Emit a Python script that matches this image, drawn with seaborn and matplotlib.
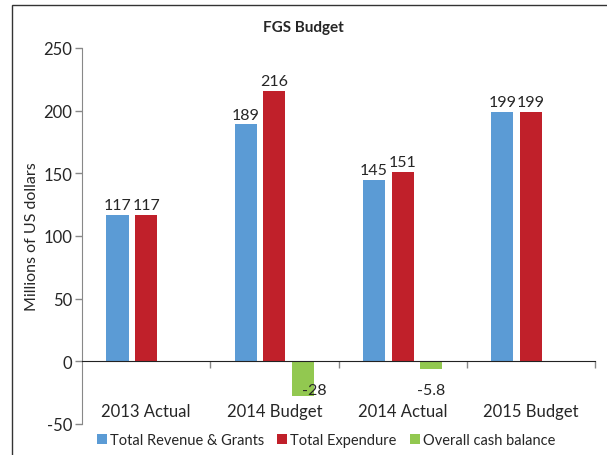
import numpy as np
import pandas as pd
import matplotlib
matplotlib.use("Agg")
import matplotlib.pyplot as plt
from matplotlib.patches import Patch, Rectangle
import seaborn as sns

periods = ["2013 Actual", "2014 Budget", "2014 Actual", "2015 Budget"]
series_names = ["Total Revenue & Grants", "Total Expendure", "Overall cash balance"]
revenue = [117, 189, 145, 199]
expenditure = [117, 216, 151, 199]
balance = [np.nan, -28, -5.8, np.nan]
colors = ["#5B9BD5", "#C0202A", "#92C850"]

df = pd.DataFrame({
    "period": periods * 3,
    "series": [series_names[0]] * 4 + [series_names[1]] * 4 + [series_names[2]] * 4,
    "value": revenue + expenditure + balance,
})

sns.set_style("white")
plt.rcParams["font.family"] = ["Lato", "DejaVu Sans"]
plt.rcParams["axes.unicode_minus"] = False

fig = plt.figure(figsize=(6.07, 4.56), dpi=100)
ax = fig.add_axes([82 / 607, 1 - 425 / 456, (595 - 82) / 607, (425 - 49) / 456])

sns.barplot(data=df.dropna(), x="period", y="value", hue="series",
            order=periods, hue_order=series_names, palette=colors, saturation=1,
            width=0.667, gap=0.22, errorbar=None, legend=False,
            linewidth=0, ax=ax)

ax.set_xlim(-0.5, 3.5)
ax.set_ylim(-50, 250)
ax.set_yticks(range(-50, 251, 50))
ax.tick_params(axis="y", labelsize=12, length=5, width=1, color="#888888",
               direction="out", left=True, pad=2)
ax.set_ylabel("Millions of US dollars", fontsize=11.5, labelpad=3)
ax.set_xlabel("")

# x axis sits on the zero line, ticks between categories
for s in ["top", "right"]:
    ax.spines[s].set_visible(False)
ax.spines["left"].set_color("#888888")
ax.spines["bottom"].set_position(("data", 0))
ax.spines["bottom"].set_color("#222222")
ax.set_xticks([0.5, 1.5, 2.5, 3.5])
ax.set_xticklabels([])
ax.tick_params(axis="x", length=5, width=1, color="#888888", direction="out", bottom=True)
for i, p in enumerate(periods):
    ax.text(i, -40, p, ha="center", va="center", fontsize=12)

# data labels
label_shift = {-28: 0.09}
for container, vals in zip(ax.containers, [revenue, expenditure, balance]):
    vals = [v for v in vals if not np.isnan(v)]
    for bar, v in zip(container.patches, vals):
        xc = bar.get_x() + bar.get_width() / 2
        txt = f"{v:g}"
        if v >= 0:
            ax.annotate(txt, (xc, v), xytext=(0, 2), textcoords="offset points",
                        ha="center", va="bottom", fontsize=11.5)
        else:
            ax.text(xc + label_shift.get(v, 0), -23, txt, ha="center", va="center", fontsize=11.5)

fig.text(303 / 607, 1 - 28 / 456, "FGS Budget", ha="center", va="center",
         fontsize=11, fontweight="bold")

handles = [Patch(facecolor=c, edgecolor="none") for c in colors]
fig.legend(handles, series_names, loc="center", bbox_to_anchor=(326 / 607, 1 - 441 / 456),
           ncol=3, frameon=False, fontsize=10.5, handlelength=0.7, handleheight=0.7,
           handletextpad=0.2, columnspacing=0.9)

fig.patches.append(Rectangle((12 / 607, -0.1), 2, 1 - 6 / 456 + 0.1, transform=fig.transFigure,
                             fill=False, edgecolor="#333333", linewidth=1))

fig.savefig("out.png", dpi=100)
